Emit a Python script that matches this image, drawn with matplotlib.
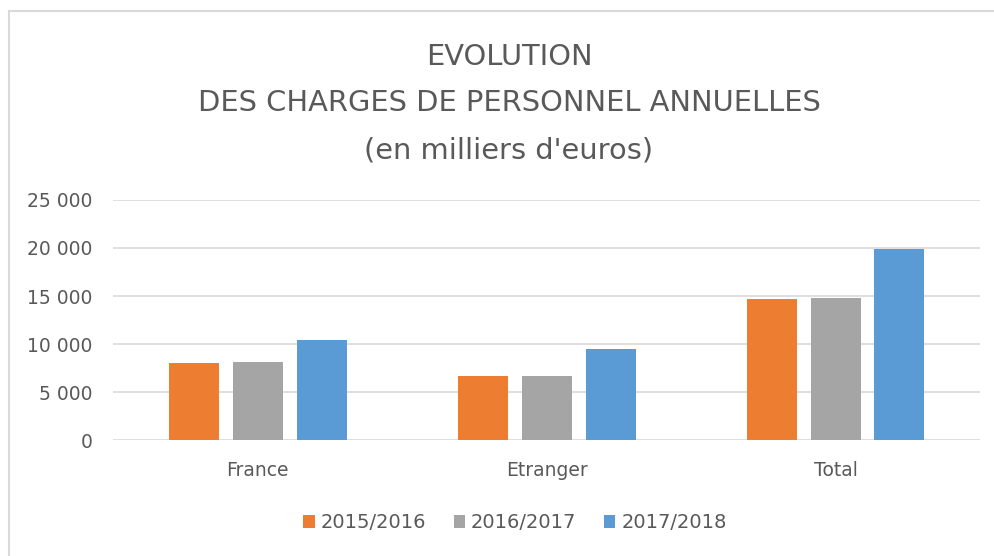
import matplotlib
matplotlib.use("Agg")
import matplotlib.pyplot as plt
import numpy as np
from matplotlib.patches import Rectangle

categories = ["France", "Etranger", "Total"]
series_names = ["2015/2016", "2016/2017", "2017/2018"]
v_2015_2016 = [8000, 6650, 14700]
v_2016_2017 = [8100, 6650, 14800]
v_2017_2018 = [10400, 9450, 19900]
yticks = [0, 5000, 10000, 15000, 20000, 25000]
ytick_labels = ["0", "5 000", "10 000", "15 000", "20 000", "25 000"]

colors = ["#ED7D31", "#A5A5A5", "#5B9BD5"]
txt = "#595959"
fam = ["DejaVu Sans"]

fig = plt.figure(figsize=(9.94, 5.56), dpi=100)
# chart border
fig.patches.append(Rectangle((9 / 994, -0.1), 2.0, 1 - 11 / 556 + 0.1, transform=fig.transFigure,
                             fill=False, edgecolor="#d9d9d9", linewidth=1.5))

ax = fig.add_axes([113 / 994, 1 - 440 / 556, (980 - 113) / 994, 240 / 556])
x = np.arange(len(categories))
w = 50 / 289
off = 64 / 289
for i, vals in enumerate([v_2015_2016, v_2016_2017, v_2017_2018]):
    ax.bar(x + (i - 1) * off, vals, width=w, color=colors[i], label=series_names[i], zorder=3)

ax.set_xlim(-0.5, 2.5)
ax.set_ylim(0, 25000)
ax.set_yticks(yticks)
ax.set_yticklabels(ytick_labels, family=fam, fontsize=13.5, color=txt)
ax.set_xticks(x)
ax.set_xticklabels(categories, family=fam, fontsize=13.5, color=txt)
ax.tick_params(axis="both", length=0)
ax.tick_params(axis="y", pad=15)
ax.tick_params(axis="x", pad=15)
ax.grid(axis="y", color="#d9d9d9", linewidth=1.2, zorder=0)
for s in ax.spines.values():
    s.set_visible(False)

title_kw = dict(ha="center", va="center", family=fam, fontsize=20.8, color="#595959",
                fontweight="normal")
fig.text(509 / 994, 1 - 57 / 556, "EVOLUTION", **title_kw)
fig.text(509 / 994, 1 - 103 / 556, "DES CHARGES DE PERSONNEL ANNUELLES", **title_kw)
fig.text(509 / 994, 1 - 150 / 556, "(en milliers d'euros)", **title_kw)

leg = fig.legend(loc="center", bbox_to_anchor=(515 / 994, 1 - 523 / 556), ncol=3, frameon=False,
                 prop={"family": fam, "size": 14}, handlelength=0.6, handleheight=0.6,
                 handletextpad=0.3, columnspacing=1.4, labelcolor=txt)

fig.savefig("out.png", dpi=100, facecolor="white")
